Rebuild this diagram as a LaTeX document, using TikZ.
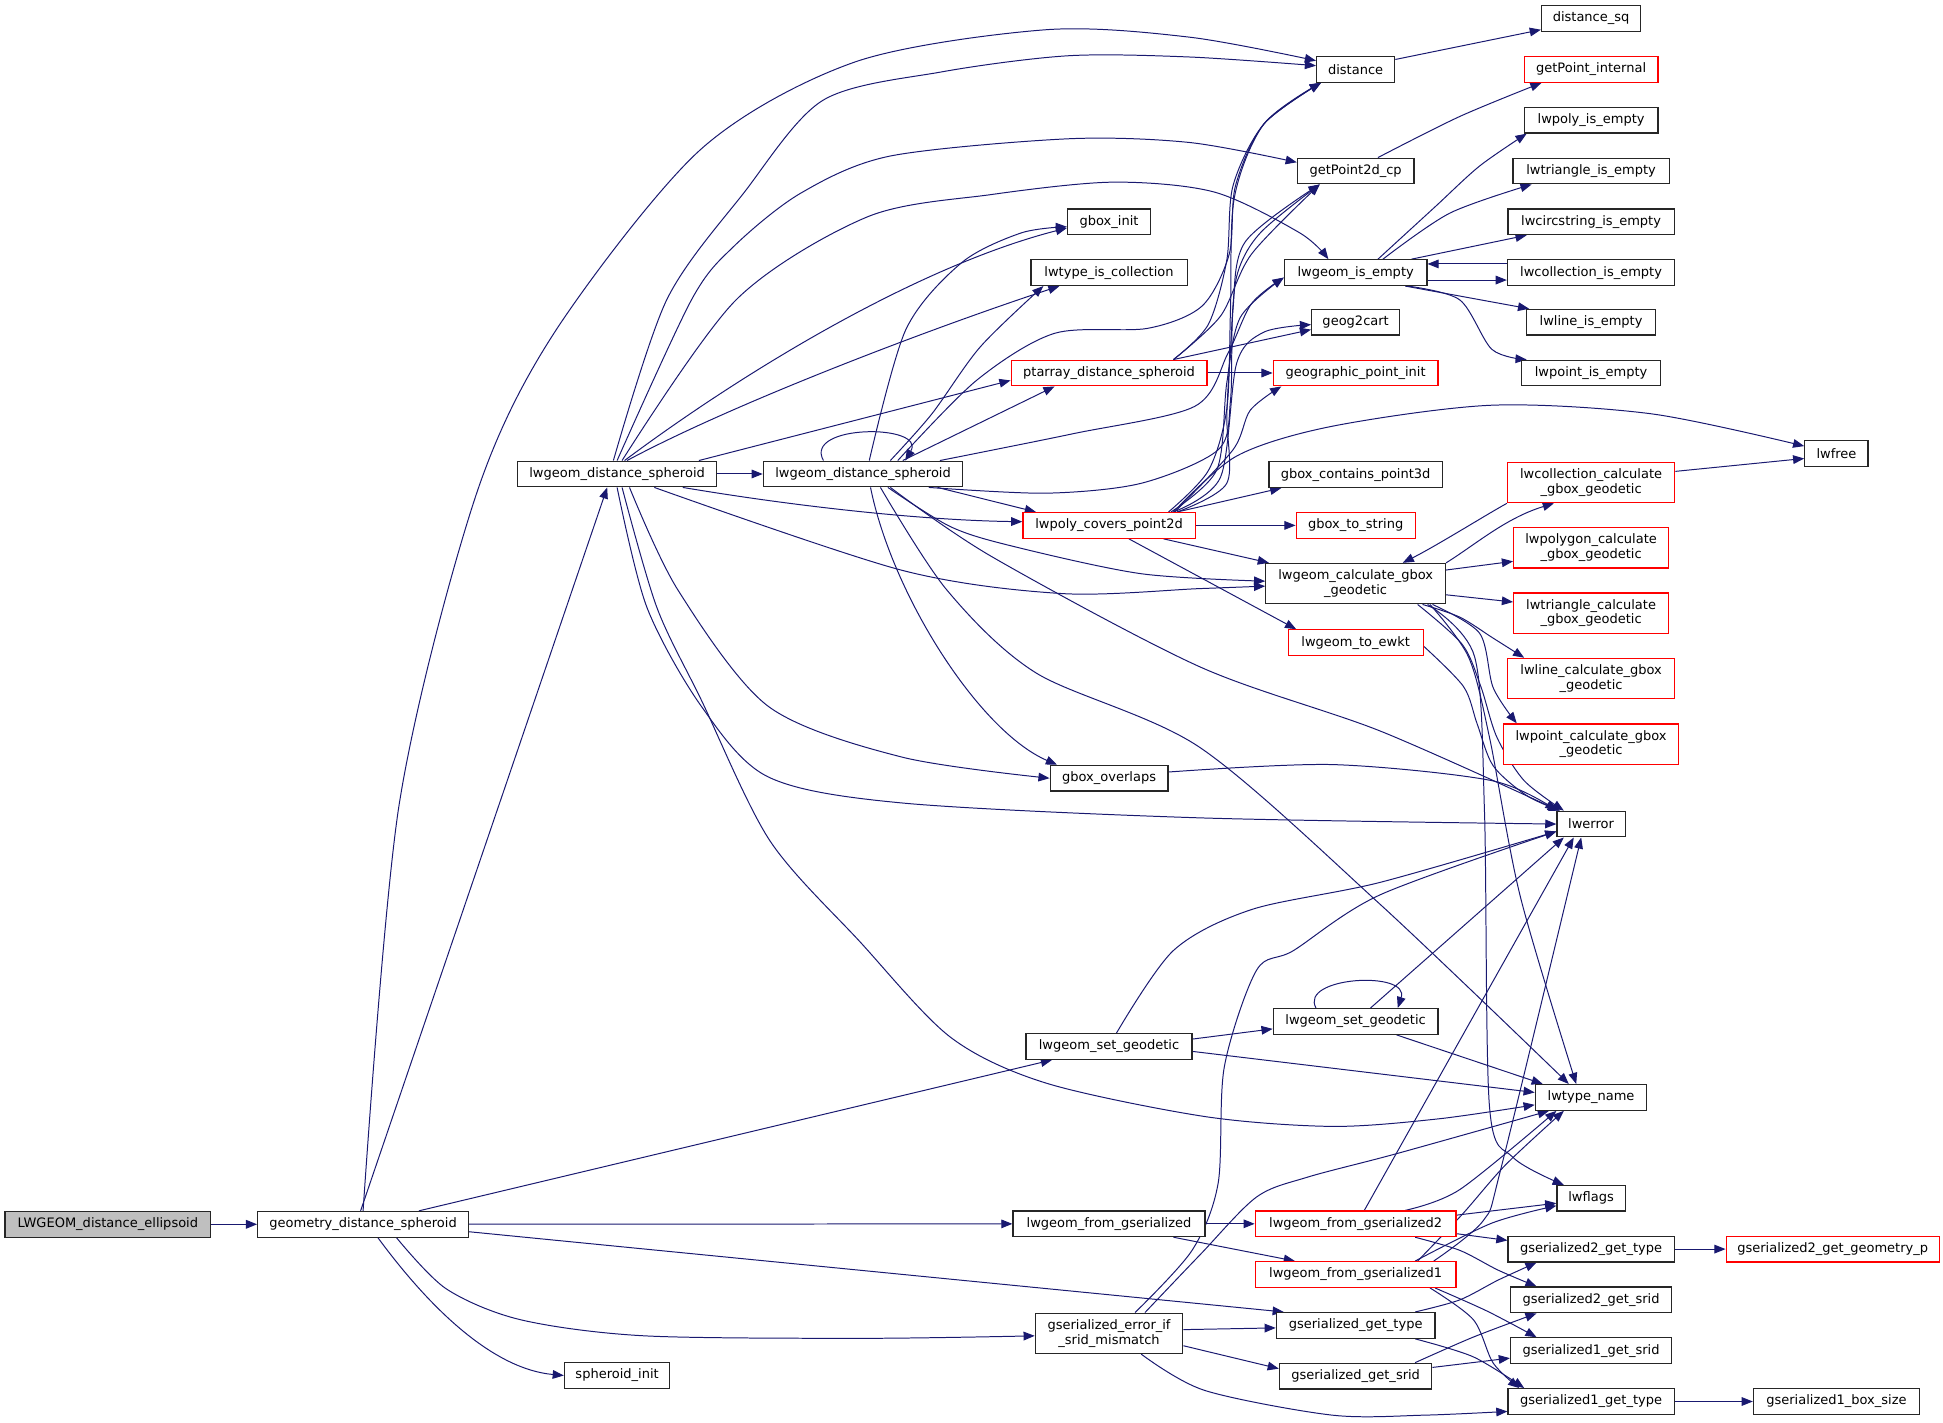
\documentclass[tikz,border=0pt]{standalone}
\usepackage{fontspec}
\setmainfont{DejaVu Sans}
\usetikzlibrary{arrows.meta}
\definecolor{edgeblue}{HTML}{191970}
\definecolor{rootgray}{HTML}{BFBFBF}
\definecolor{truncred}{HTML}{FF0000}
\pgfdeclarelayer{background}
\pgfsetlayers{background,main}
\tikzset{
  fn/.style={draw=black!85, line width=1pt, fill=white, inner sep=0pt, minimum height=20.7pt, align=center, font=\fontsize{10.5}{12}\selectfont},
  fntrunc/.style={fn, draw=truncred},
  fnroot/.style={fn, fill=rootgray},
  fntwo/.style={minimum height=32.6pt},
  call/.style={draw=edgeblue, line width=0.8pt, -{Triangle[length=9pt,width=7pt]}},
}
\begin{document}
\begin{tikzpicture}[x=1pt, y=-1pt]
    \useasboundingbox (0,0) rectangle (1568,1148);

    % functions
    \node[fnroot, minimum width=166pt] (root) at (87,988) {LWGEOM\_distance\_ellipsoid};
    \node[fn, minimum width=170pt] (gds) at (293,988) {geometry\_distance\_spheroid};
    \node[fn, minimum width=161pt] (lds) at (498,382.5) {lwgeom\_distance\_spheroid};
    \node[fn, minimum width=161pt] (ldsb) at (696.5,382.5) {lwgeom\_distance\_spheroid};
    \node[fn, minimum width=85pt] (spi) at (498,1110) {spheroid\_init};
    \node[fn, minimum width=63pt] (dist) at (1094,56) {distance};
    \node[fn, minimum width=80pt] (distsq) at (1284,15) {distance\_sq};
    \node[fntrunc, minimum width=108pt] (gpint) at (1284,56) {getPoint\_internal};
    \node[fn, minimum width=108pt] (lpie) at (1284,97) {lwpoly\_is\_empty};
    \node[fn, minimum width=126pt] (ltie) at (1284,138) {lwtriangle\_is\_empty};
    \node[fn, minimum width=134pt] (lcsie) at (1284,179) {lwcircstring\_is\_empty};
    \node[fn, minimum width=135pt] (lcoie) at (1284,220) {lwcollection\_is\_empty};
    \node[fn, minimum width=104pt] (llie) at (1284,260) {lwline\_is\_empty};
    \node[fn, minimum width=112pt] (lptie) at (1284,301) {lwpoint\_is\_empty};
    \node[fn, minimum width=94pt] (gp2d) at (1094,138) {getPoint2d\_cp};
    \node[fn, minimum width=115pt] (lgie) at (1094,220) {lwgeom\_is\_empty};
    \node[fn, minimum width=71pt] (g2c) at (1094,260) {geog2cart};
    \node[fntrunc, minimum width=133pt] (gpi) at (1094,301) {geographic\_point\_init};
    \node[fntrunc, minimum width=158pt] (pads) at (895,301) {ptarray\_distance\_spheroid};
    \node[fn, minimum width=67pt] (gbi) at (895,179) {gbox\_init};
    \node[fn, minimum width=126pt] (ltic) at (895,220) {lwtype\_is\_collection};
    \node[fn, minimum width=140pt] (gcp) at (1094,383) {gbox\_contains\_point3d};
    \node[fntrunc, minimum width=96pt] (gts) at (1094,424) {gbox\_to\_string};
    \node[fntrunc, minimum width=139pt] (lpcp) at (895,424) {lwpoly\_covers\_point2d};
    \node[fn, fntwo, minimum width=145pt] (lgcg) at (1094,471) {lwgeom\_calculate\_gbox\\\_geodetic};
    \node[fntrunc, minimum width=109pt] (lte) at (1094,518.6) {lwgeom\_to\_ewkt};
    \node[fn, minimum width=51pt] (lwfree) at (1482,366) {lwfree};
    \node[fntrunc, fntwo, minimum width=135pt] (lccg) at (1284,389.4) {lwcollection\_calculate\\\_gbox\_geodetic};
    \node[fntrunc, fntwo, minimum width=125pt] (lpgcg) at (1284,442) {lwpolygon\_calculate\\\_gbox\_geodetic};
    \node[fntrunc, fntwo, minimum width=125pt] (ltcg) at (1284,494.8) {lwtriangle\_calculate\\\_gbox\_geodetic};
    \node[fntrunc, fntwo, minimum width=135pt] (llcg) at (1284,547.6) {lwline\_calculate\_gbox\\\_geodetic};
    \node[fntrunc, fntwo, minimum width=141pt] (lptcg) at (1284,600.5) {lwpoint\_calculate\_gbox\\\_geodetic};
    \node[fn, minimum width=95pt] (gbo) at (895,628) {gbox\_overlaps};
    \node[fn, minimum width=55pt] (lwerror) at (1284,665) {lwerror};
    \node[fn, minimum width=134pt] (lsg) at (895,844.5) {lwgeom\_set\_geodetic};
    \node[fn, minimum width=133pt] (lsgb) at (1094,824.3) {lwgeom\_set\_geodetic};
    \node[fn, minimum width=90pt] (ltn) at (1284,885.6) {lwtype\_name};
    \node[fn, minimum width=55pt] (lwflags) at (1284,967) {lwflags};
    \node[fn, minimum width=155pt] (lfg) at (895,987.6) {lwgeom\_from\_gserialized};
    \node[fntrunc, minimum width=162pt] (lfg2) at (1094,987.6) {lwgeom\_from\_gserialized2};
    \node[fntrunc, minimum width=162pt] (lfg1) at (1094,1028.5) {lwgeom\_from\_gserialized1};
    \node[fn, minimum width=134pt] (g2gt) at (1284,1008) {gserialized2\_get\_type};
    \node[fntrunc, minimum width=172pt] (g2ggp) at (1479,1008) {gserialized2\_get\_geometry\_p};
    \node[fn, minimum width=130pt] (g2gs) at (1284,1049) {gserialized2\_get\_srid};
    \node[fn, minimum width=130pt] (g1gs) at (1284,1090) {gserialized1\_get\_srid};
    \node[fn, minimum width=134pt] (g1gt) at (1284,1131) {gserialized1\_get\_type};
    \node[fn, minimum width=134pt] (g1bs) at (1482,1131) {gserialized1\_box\_size};
    \node[fn, fntwo, minimum width=119pt] (gesm) at (895,1076) {gserialized\_error\_if\\\_srid\_mismatch};
    \node[fn, minimum width=128pt] (ggt) at (1094,1069.6) {gserialized\_get\_type};
    \node[fn, minimum width=123pt] (ggs) at (1094,1110.5) {gserialized\_get\_srid};

    \begin{pgfonlayer}{background}
    % calls of the root and of geometry_distance_spheroid
    \draw[call] (root) -- (gds);
    \draw[call] ([xshift=-2pt]gds.north) -- ([xshift=-8pt]lds.south);
    \draw[call] plot [smooth] coordinates {(gds.north) (322,650) (383,403) (447,269) (565,121) (690,50) (844,24) (960,30) ([yshift=7pt]dist.west)};
    \draw[call] ([xshift=45pt]gds.north) -- ([xshift=-46pt]lsg.south);
    \draw[call] (gds) -- (lfg);
    \draw[call] ([yshift=-6pt]gds.east) -- ([xshift=-58pt]ggt.north);
    \draw[call] plot [smooth] coordinates {([xshift=27pt]gds.south) (360,1040) (420,1065) (520,1078) (700,1080) ([yshift=-2pt]gesm.west)};
    \draw[call] ([xshift=12pt]gds.south) .. controls (350,1060) and (400,1105) .. (spi.west);

    % first lwgeom_distance_spheroid
    \draw[call] plot [smooth] coordinates {([xshift=-3pt]lds.north) (538,242) (600,156) (664,81) (760,58) (862,45) (960,46) ([yshift=3pt]dist.west)};
    \draw[call] plot [smooth] coordinates {(lds.north) (558,242) (592,199) (646,156) (718,126) (862,112) (960,115) ([yshift=7pt]gp2d.west)};
    \draw[call] plot [smooth] coordinates {([xshift=4pt]lds.north) (594,242) (700,175) (800,157) (898,147) (980,155) (1049,188) ([xshift=-22pt]lgie.north)};
    \draw[call] ([xshift=6pt]lds.north) .. controls (600,300) and (740,215) .. ([yshift=-5pt]gbi.west);
    \draw[call] ([xshift=8pt]lds.north) .. controls (597,323) and (760,262) .. ([xshift=-40pt]ltic.south);
    \draw[call] ([xshift=-15pt]lds.north east) -- ([yshift=-6pt]pads.west);
    \draw[call] (lds) -- (ldsb);
    \draw[call] ([xshift=53pt]lds.south) .. controls (650,410) and (750,420) .. ([yshift=3pt]lpcp.west);
    \draw[call] plot [smooth] coordinates {([xshift=30pt]lds.south) (727,460) (857,479) (968,475) ([yshift=-2pt]lgcg.west)};
    \draw[call] plot [smooth] coordinates {([xshift=10pt]lds.south) (547,476) (620,570) (728,611) (gbo.west)};
    \draw[call] plot [smooth] coordinates {(lds.south) (522,490) (566,570) (620,627) (728,648) (968,660) (lwerror.west)};
    \draw[call] plot [smooth] coordinates {([xshift=4pt]lds.south) (530,490) (566,565) (621,678) (694,760) (767,837) (844,874) (972,901) (1075,909) (1160,903) ([yshift=-6pt]ltn.west)};

    % second lwgeom_distance_spheroid
    \draw[call] ([xshift=-32pt]ldsb.north) .. controls (648,342) and (748,342) .. ([xshift=34pt]ldsb.north);
    \draw[call] plot [smooth] coordinates {([xshift=5pt]ldsb.north) (731,266) (776,212) (824,188) ([yshift=-4pt]gbi.west)};
    \draw[call] plot [smooth] coordinates {([xshift=22pt]ldsb.north) (752,334) (791,280) ([xshift=-53pt]ltic.south)};
    \draw[call] ([xshift=32pt]ldsb.north) -- ([xshift=-44pt]pads.south);
    \draw[call] plot [smooth] coordinates {([xshift=28pt]ldsb.north) (788,307) (851,269) (926,265) (970,247) (992,205) (997,150) (1020,100) ([xshift=-28pt]dist.south)};
    \draw[call] plot [smooth] coordinates {([xshift=62pt]ldsb.north) (866,350) (964,328) (991,285) (1010,245) ([yshift=-4pt]lgie.west)};
    \draw[call] plot [smooth] coordinates {([xshift=53pt]ldsb.south) (844,398) (921,390) (983,363) (993,323) (995,250) (1005,195) ([xshift=-29pt]gp2d.south)};
    \draw[call] ([xshift=60pt]ldsb.south) -- ([xshift=-59pt]lpcp.north);
    \draw[call] plot [smooth] coordinates {([xshift=20pt]ldsb.south) (767,425) (818,441) (921,463) ([yshift=2pt]lgcg.west)};
    \draw[call] ([xshift=6pt]ldsb.south) .. controls (720,480) and (790,590) .. ([xshift=-42pt]gbo.north);
    \draw[call] plot [smooth] coordinates {([xshift=22pt]ldsb.south) (800,449) (968,538) (1114,590) ([xshift=-26pt]lwerror.north)};
    \draw[call] plot [smooth] coordinates {([xshift=14pt]ldsb.south) (764,476) (836,543) (968,603) (1114,730) ([xshift=-18pt]ltn.north)};

    % ptarray_distance_spheroid
    \draw[call] plot [smooth] coordinates {([xshift=52pt]pads.north) (975,262) (990,210) (995,150) (1020,100) ([xshift=-28pt]dist.south)};
    \draw[call] plot [smooth] coordinates {([xshift=52pt]pads.north) (985,255) (1010,205) ([xshift=-29pt]gp2d.south)};
    \draw[call] ([xshift=52pt]pads.north) -- ([yshift=-6pt]g2c.west);
    \draw[call] (pads) -- (gpi);

    % lwpoly_covers_point2d
    \draw[call] plot [smooth] coordinates {([xshift=48pt]lpcp.north) (975,380) (990,330) (993,250) (996,160) (1020,100) ([xshift=-28pt]dist.south)};
    \draw[call] plot [smooth] coordinates {([xshift=55pt]lpcp.north) (990,390) (990,336) (993,282) (998,223) (1017,188) ([xshift=-29pt]gp2d.south)};
    \draw[call] plot [smooth] coordinates {([xshift=50pt]lpcp.north) (982,379) (990,309) (1001,256) ([yshift=-4pt]lgie.west)};
    \draw[call] plot [smooth] coordinates {([xshift=52pt]lpcp.north) (985,385) (998,293) (1020,268) ([yshift=-2pt]g2c.west)};
    \draw[call] plot [smooth] coordinates {([xshift=53pt]lpcp.north) (995,363) (1009,331) ([xshift=-60pt]gpi.south)};
    \draw[call] ([xshift=55pt]lpcp.north) -- ([xshift=-60pt]gcp.south);
    \draw[call] (lpcp) -- (gts);
    \draw[call] ([xshift=44pt]lpcp.south) -- ([xshift=-70pt]lgcg.north);
    \draw[call] ([xshift=16pt]lpcp.south) -- ([xshift=-48pt]lte.north);
    \draw[call] plot [smooth] coordinates {([xshift=52pt]lpcp.north) (998,368) (1075,344) (1204,327) (1333,334) ([yshift=6pt]lwfree.west)};

    % lwgeom_is_empty and the top right
    \draw[call] plot [smooth] coordinates {([xshift=18pt]lgie.north) (1158,167) (1194,134) ([xshift=-52pt]lpie.south)};
    \draw[call] plot [smooth] coordinates {([xshift=22pt]lgie.north) (1170,172) ([xshift=-48pt]ltie.south)};
    \draw[call] ([xshift=45pt]lgie.north) -- ([xshift=-52pt]lcsie.south);
    \draw[call] ([yshift=-6pt]lgie.east) -- ([yshift=-6pt]lcoie.west);
    \draw[call] ([yshift=7pt]lcoie.west) -- ([yshift=7pt]lgie.east);
    \draw[call] ([xshift=40pt]lgie.south) -- ([xshift=-50pt]llie.north);
    \draw[call] plot [smooth] coordinates {([xshift=42pt]lgie.south) (1178,242) (1204,282) ([xshift=-52pt]lptie.north)};
    \draw[call] ([yshift=8pt]dist.east) -- ([yshift=-9pt]distsq.west);
    \draw[call] plot [smooth] coordinates {([xshift=18pt]gp2d.north) (1178,94) ([xshift=-40pt]gpint.south)};

    % lwgeom_calculate_gbox_geodetic
    \draw[call] (lgcg.north east) .. controls (1190,440) and (1215,418) .. ([xshift=-30pt]lccg.south);
    \draw[call] (lccg.south west) .. controls (1200,415) and (1160,440) .. ([xshift=38pt]lgcg.north);
    \draw[call] ([yshift=9pt]lccg.east) -- ([yshift=-4pt]lwfree.west);
    \draw[call] ([yshift=11pt]lgcg.east) -- ([yshift=-11pt]lpgcg.west);
    \draw[call] ([yshift=-9pt]lgcg.east) -- ([yshift=9pt]ltcg.west);
    \draw[call] plot [smooth] coordinates {([xshift=54pt]lgcg.south) (1178,498) (1205,515) ([xshift=-54pt]llcg.north)};
    \draw[call] plot [smooth] coordinates {([xshift=62pt]lgcg.south) (1194,511) (1205,555) ([xshift=-60pt]lptcg.north)};
    \draw[call] plot [smooth] coordinates {([xshift=50pt]lgcg.south) (1180,520) (1195,554) (1208,595) (1230,630) ([xshift=-22pt]lwerror.north)};
    \draw[call] plot [smooth] coordinates {([xshift=60pt]lgcg.south) (1185,530) (1202,595) (1227,724) ([xshift=-12pt]ltn.north)};
    \draw[call] plot [smooth] coordinates {([xshift=58pt]lgcg.south) (1190,530) (1198,656) (1202,893) (1221,934) ([xshift=-22pt]lwflags.north)};
    \draw[call] plot [smooth] coordinates {([yshift=-3pt]lte.east) (1181,554) (1192,584) (1205,618) (1232,642) ([xshift=-25pt]lwerror.north)};
    \draw[call] plot [smooth] coordinates {([yshift=5pt]gbo.east) (1075,617) (1204,630) (lwerror.north west)};

    % lwgeom_set_geodetic
    \draw[call] plot [smooth] coordinates {([xshift=6pt]lsg.north) (947,767) (1010,734) (1114,712) ([yshift=-6pt]lwerror.west)};
    \draw[call] ([yshift=6pt]lsg.east) -- ([yshift=-6pt]lsgb.west);
    \draw[call] ([yshift=-4pt]lsg.east) -- ([yshift=4pt]ltn.west);
    \draw[call] ([xshift=-32pt]lsgb.north) .. controls (1048,788) and (1138,783) .. ([xshift=34pt]lsgb.north);
    \draw[call] ([xshift=12pt]lsgb.north) -- ([xshift=-22pt]lwerror.south);
    \draw[call] ([xshift=33pt]lsgb.south) -- ([xshift=-39pt]ltn.north);

    % lwgeom_from_gserialized
    \draw[call] (lfg) -- (lfg2);
    \draw[call] ([xshift=52pt]lfg.south) -- ([xshift=-49pt]lfg1.north);
    \draw[call] ([xshift=7pt]lfg2.north) -- ([xshift=-14pt]lwerror.south);
    \draw[call] plot [smooth] coordinates {([xshift=40pt]lfg2.north) (1178,960) ([xshift=-28pt]ltn.south)};
    \draw[call] ([yshift=7pt]lfg2.east) -- ([yshift=-4pt]lwflags.west);
    \draw[call] ([yshift=-8pt]lfg2.east) -- ([yshift=7pt]g2gt.west);
    \draw[call] plot [smooth] coordinates {([xshift=48pt]lfg2.south) (1178,1009) (1209,1025) ([xshift=-44pt]g2gs.north)};
    \draw[call] plot [smooth] coordinates {([xshift=63pt]lfg1.north) (1197,985) (1212,940) ([xshift=-8pt]lwerror.south)};
    \draw[call] plot [smooth] coordinates {([xshift=50pt]lfg1.north) (1180,980) (1215,940) ([xshift=-22pt]ltn.south)};
    \draw[call] plot [smooth] coordinates {([xshift=48pt]lfg1.north) (1204,987) ([yshift=-6pt]lwflags.west)};
    \draw[call] plot [smooth] coordinates {([xshift=64pt]lfg1.south) (1200,1058) ([xshift=-44pt]g1gs.north)};
    \draw[call] plot [smooth] coordinates {([xshift=60pt]lfg1.south) (1189,1065) (1205,1100) ([xshift=-58pt]g1gt.north)};
    \draw[call] (g2gt) -- (g2ggp);
    \draw[call] (g1gt) -- (g1bs);

    % gserialized_error_if_srid_mismatch
    \draw[call] plot [smooth] coordinates {([xshift=21pt]gesm.north) (962,1009) (983,955) (988,861) (1014,783) (1044,767) (1114,722) ([yshift=-6pt]lwerror.west)};
    \draw[call] plot [smooth] coordinates {([xshift=29pt]gesm.north) (969,1012) (1014,966) (1055,950) (1127,931) ([xshift=-34pt]ltn.south)};
    \draw[call] ([yshift=3pt]gesm.east) -- ([yshift=-2pt]ggt.west);
    \draw[call] ([yshift=-10pt]gesm.east) -- ([yshift=6pt]ggs.west);
    \draw[call] plot [smooth] coordinates {([xshift=26pt]gesm.south) (972,1122) (1075,1142) (1150,1142) ([yshift=-8pt]g1gt.west)};
    \draw[call] plot [smooth] coordinates {([xshift=48pt]ggt.north) (1178,1049) (1209,1033) ([xshift=-44pt]g2gt.south)};
    \draw[call] plot [smooth] coordinates {([xshift=48pt]ggt.south) (1189,1095) ([xshift=-54pt]g1gt.north)};
    \draw[call] plot [smooth] coordinates {([xshift=48pt]ggs.north) (1189,1079) ([xshift=-44pt]g2gs.south)};
    \draw[call] ([yshift=7pt]ggs.east) -- ([yshift=-6pt]g1gs.west);
    \end{pgfonlayer}
\end{tikzpicture}
\end{document}
